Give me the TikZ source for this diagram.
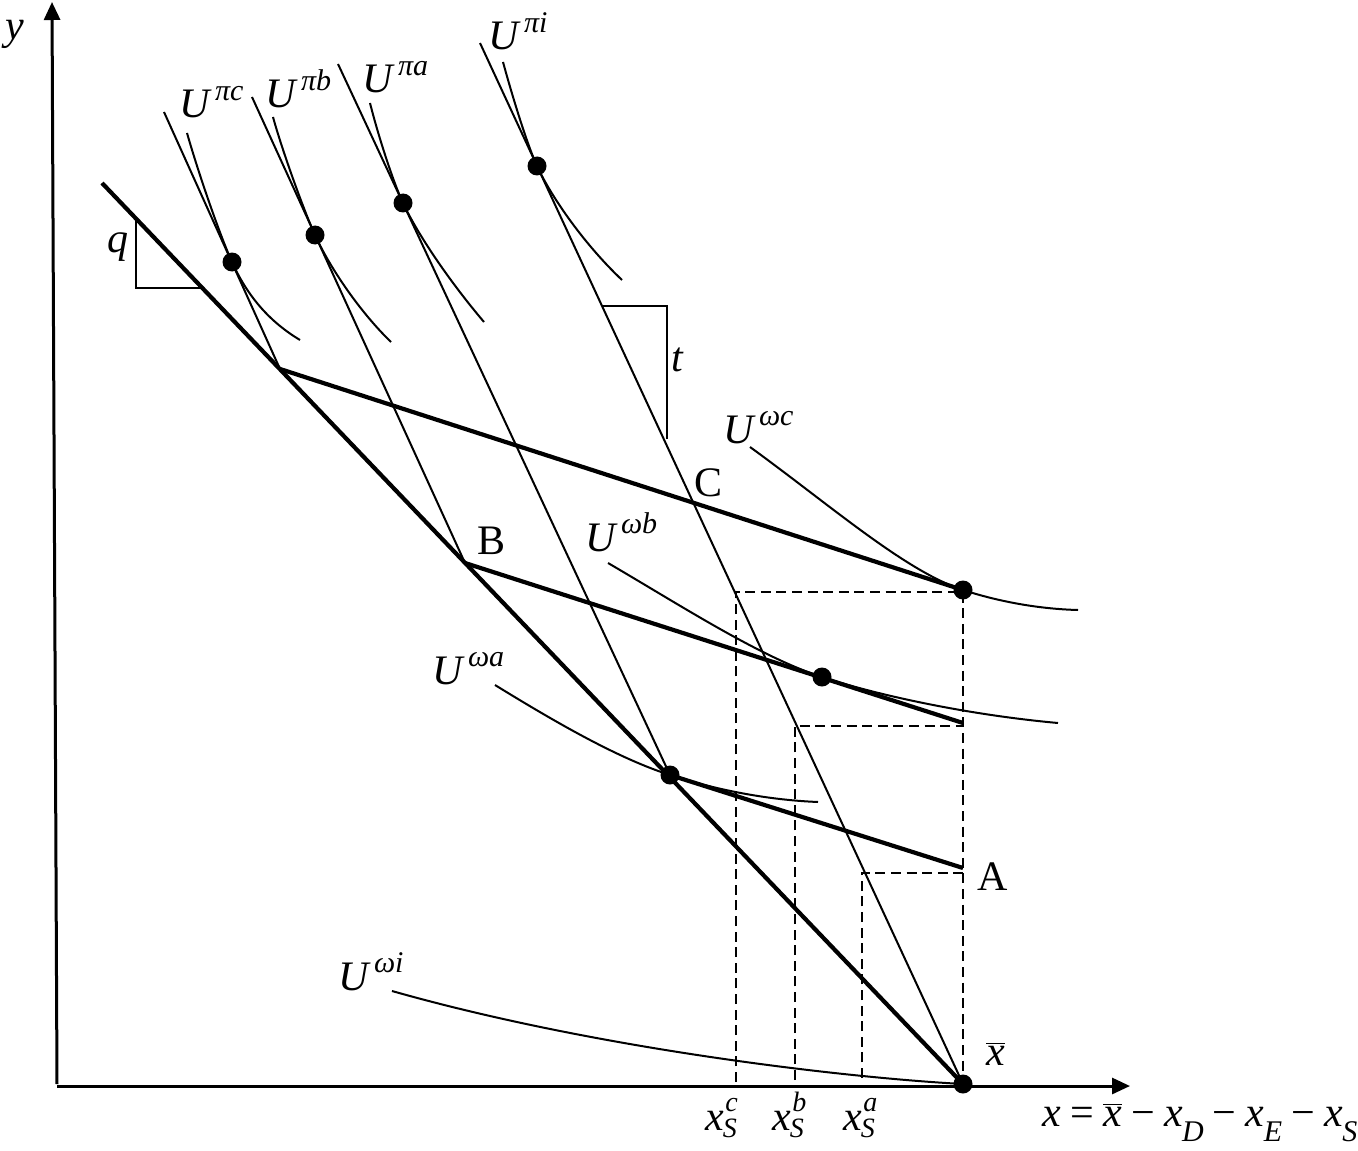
\documentclass[tikz,border=0pt]{standalone}
\usepackage{fontspec}
\setmainfont{Liberation Serif}
\usetikzlibrary{arrows.meta}
\newcommand{\sfs}{\fontsize{15}{16}\selectfont\itshape}
\newcommand{\ssfs}{\fontsize{14}{15}\selectfont\itshape}
\newcommand{\Ul}[1]{\textit{U}\kern1.5pt\raisebox{0.42em}{\sfs #1}}
\newcommand{\xs}[1]{\textit{x}\kern-0.6pt\rlap{\kern1.2pt\raisebox{0.43em}{\ssfs #1}}\raisebox{-0.17em}{\ssfs S}}
\newcommand{\xsub}[1]{\textit{x}\kern-0.3pt\raisebox{-0.36em}{\sfs #1}}
\newcommand{\xbar}{$\overline{\mbox{\itshape x}}$}
\newcommand{\gapsp}{\hspace{0.22em}}
\begin{document}
\begin{tikzpicture}[x=0.5pt,y=-0.5pt,
  thinl/.style={line width=1pt},
  thickl/.style={line width=2.1pt},
  dashl/.style={line width=1.1pt,dash pattern=on 5pt off 2.8pt},
  axisl/.style={line width=1.5pt,-{Triangle[length=9pt,width=8pt]}},
  dotn/.style={circle,fill=black,inner sep=0pt,minimum size=9.5pt},
  lab/.style={inner sep=0pt,font=\fontsize{21}{25}\selectfont}]
\useasboundingbox (0,0) rectangle (1358,1150);
% key points
\coordinate (O) at (57,1086);
\coordinate (ytop) at (52,2);
\coordinate (xtip) at (1130,1086);
\coordinate (xb) at (963,1084);
\coordinate (bl) at (102,183);
\coordinate (Cw) at (280,369);
\coordinate (Bw) at (465,563);
\coordinate (Aw) at (670,775);
\coordinate (ce) at (963,590);
\coordinate (be) at (963,723);
\coordinate (ae) at (963,868);
\coordinate (pc) at (164,112);
\coordinate (pb) at (252,97);
\coordinate (pa) at (338,64);
\coordinate (pi) at (480,43);
% axes
\draw[axisl] (57,1084) -- (ytop);
\draw[axisl] (O) -- (xtip);
% dashed guides
\coordinate (dc0) at (736,1082); \coordinate (dc1) at (736,592); \coordinate (dc2) at (963,592); \coordinate (dc3) at (963,1082);
\coordinate (db0) at (795,1080); \coordinate (db1) at (795,726); \coordinate (db2) at (963,726);
\coordinate (da0) at (862,1078); \coordinate (da1) at (862,873); \coordinate (da2) at (968,873);
\draw[dashl] (dc0) -- (dc1) -- (dc2) -- (dc3);
\draw[dashl] (db0) -- (db1) -- (db2);
\draw[dashl] (da0) -- (da1) -- (da2);
% budget line and wage lines
\draw[thickl] (bl) -- (xb);
\draw[thickl] (Cw) -- (ce);
\draw[thickl] (Bw) -- (be);
\draw[thickl] (Aw) -- (ae);
% profit iso lines
\draw[thinl] (pc) -- (Cw);
\draw[thinl] (pb) -- (Bw);
\draw[thinl] (pa) -- (Aw);
\draw[thinl] (pi) -- (xb);
% slope triangles
\coordinate (q0) at (136,218); \coordinate (q1) at (136,288); \coordinate (q2) at (202,288);
\draw[thinl] (q0) -- (q1) -- (q2);
\coordinate (t0) at (603,306); \coordinate (t1) at (667,306); \coordinate (t2) at (667,439);
\draw[thinl] (t0) -- (t1) -- (t2);
% dots
\node[dotn] (dpc) at (232,262) {};
\node[dotn] (dpb) at (315,235) {};
\node[dotn] (dpa) at (403,203) {};
\node[dotn] (dpi) at (537,166) {};
\node[dotn] (dwc) at (ce) {};
\node[dotn] (dwb) at (822,677) {};
\node[dotn] (dwa) at (Aw) {};
\node[dotn] (dx) at (xb) {};
% profit indifference curves
\draw[thinl] (187,133) .. controls (199,175) and (220,235.4) .. (dpc.center) .. controls (250,302) and (275,325) .. (300,340);
\draw[thinl] (273,117) .. controls (282,150) and (304,211) .. (dpb.center) .. controls (330,268) and (360,312) .. (391,342);
\draw[thinl] (370,103) .. controls (378,135) and (393,181.6) .. (dpa.center) .. controls (418,235) and (450,282) .. (484,322);
\draw[thinl] (503,62) .. controls (512,95) and (527,144.4) .. (dpi.center) .. controls (552,198.3) and (585,245) .. (622,280);
% worker indifference curves
\draw[thinl] (750,447) .. controls (830,505) and (905,571) .. (dwc.center) .. controls (1000,602) and (1040,609) .. (1078,610);
\draw[thinl] (608,563) .. controls (680,605) and (760,657) .. (dwb.center) .. controls (880,696) and (970,715) .. (1058,723);
\draw[thinl] (495,685) .. controls (560,725) and (620,759) .. (dwa.center) .. controls (720,791) and (770,800) .. (818,802);
\draw[thinl] (392,991) .. controls (600,1050) and (850,1078) .. (dx.center);
% labels
\node[lab,anchor=center] (ly) at (15,34) {\itshape y};
\node[lab,anchor=center] (lq) at (118,247) {\itshape q};
\node[lab,anchor=center] (lt) at (677,360) {\itshape t};
\node[lab,anchor=base west] (lUpc) at (179,118) {\Ul{πc}};
\node[lab,anchor=base west] (lUpb) at (265,108) {\Ul{πb}};
\node[lab,anchor=base west] (lUpa) at (362,93) {\Ul{πa}};
\node[lab,anchor=base west] (lUpi) at (488,50) {\Ul{πi}};
\node[lab,anchor=base west] (lUwc) at (723,443) {\Ul{ωc}};
\node[lab,anchor=base west] (lUwb) at (585,551) {\Ul{ωb}};
\node[lab,anchor=base west] (lUwa) at (432,684) {\Ul{ωa}};
\node[lab,anchor=base west] (lUwi) at (338,990) {\Ul{ωi}};
\node[lab,anchor=base west] (lC) at (694,496) {C};
\node[lab,anchor=base west] (lB) at (477,554) {B};
\node[lab,anchor=base west] (lA) at (977,890) {A};
\node[lab,anchor=base west] (lxb) at (986,1065) {\xbar};
\node[lab,anchor=base west] (lxc) at (705,1130) {\xs{c}};
\node[lab,anchor=base west] (lxbb) at (772,1130) {\xs{b}};
\node[lab,anchor=base west] (lxa) at (843,1130) {\xs{a}};
\node[lab,anchor=base west] (leq) at (1042,1126) {\textit{x}\gapsp=\gapsp\xbar\gapsp−\gapsp\xsub{D}\gapsp−\gapsp\xsub{E}\gapsp−\gapsp\xsub{S}};
\end{tikzpicture}
\end{document}
